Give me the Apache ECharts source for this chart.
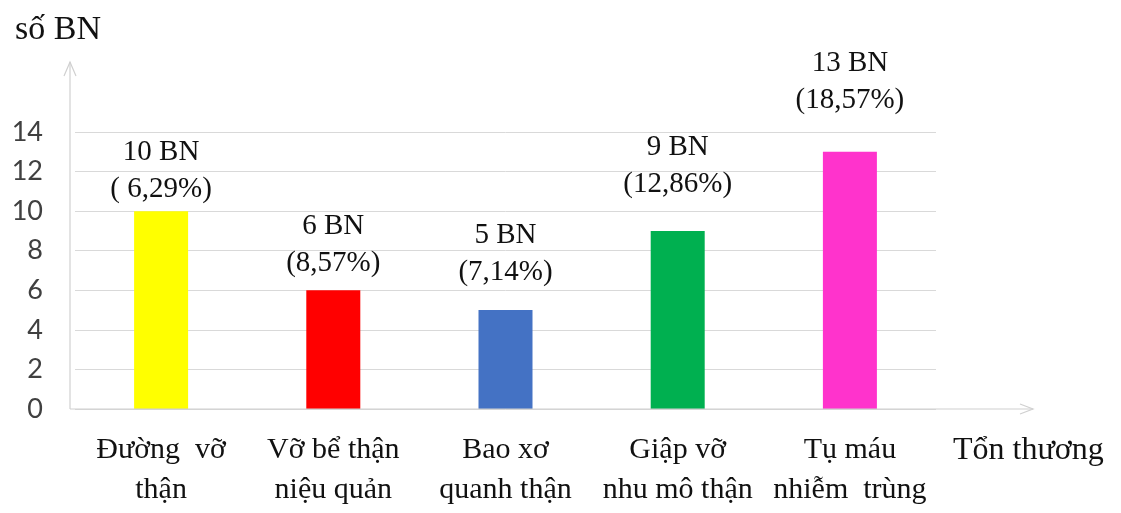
<!DOCTYPE html>
<html>
<head>
<meta charset="utf-8">
<script src="https://cdn.jsdelivr.net/npm/echarts@6/dist/echarts.min.js"></script>
<style>html,body{margin:0;padding:0;background:#fff}#c{width:1121px;height:513px}</style>
</head>
<body>
<div id="c"></div>
<script>
const categories = ['Đường  vỡ\nthận', 'Vỡ bể thận\nniệu quản', 'Bao xơ\nquanh thận', 'Giập vỡ\nnhu mô thận', 'Tụ máu\nnhiễm  trùng'];
const counts = [10, 6, 5, 9, 13];
const percents = ['( 6,29%)', '(8,57%)', '(7,14%)', '(12,86%)', '(18,57%)'];
const yTicks = [0, 2, 4, 6, 8, 10, 12, 14];
const yAxisTitle = 'số BN';
const xAxisTitle = 'Tổn thương';

const colors = ['#FFFF00', '#FF0000', '#4472C4', '#00B050', '#FF33CC'];
const labelGap = [3, 8, 19, 28, 33];

const G = {left: 75, right: 185, top: 132, bottom: 104};
const W = 1121, H = 513;
const axisX = 70, axisY = H - G.bottom;
const axisColor = '#d0d0d0';

const chart = echarts.init(document.getElementById('c'), null, {renderer: 'canvas'});
chart.setOption({
  animation: false,
  backgroundColor: '#ffffff',
  grid: G,
  xAxis: {
    type: 'category',
    data: categories,
    axisLine: {show: false},
    axisTick: {show: false},
    axisLabel: {
      interval: 0, margin: 21,
      fontFamily: 'Liberation Serif', fontSize: 30, lineHeight: 40, color: '#111111'
    }
  },
  yAxis: {
    type: 'value',
    min: yTicks[0], max: yTicks[yTicks.length - 1], interval: 2,
    axisLine: {show: false},
    axisTick: {show: false},
    splitLine: {lineStyle: {color: '#d9d9d9', width: 1}},
    axisLabel: {
      margin: 32, fontFamily: 'Lato', fontSize: 27, color: '#404040',
      showMinLabel: true, showMaxLabel: true
    }
  },
  series: [{
    type: 'bar',
    barWidth: 54,
    data: counts.map((v, i) => ({
      value: v,
      itemStyle: {color: colors[i]},
      label: {distance: labelGap[i]}
    })),
    label: {
      show: true,
      position: 'top',
      fontFamily: 'Liberation Serif',
      fontSize: 29,
      lineHeight: 37,
      color: '#111111',
      formatter: p => counts[p.dataIndex] + ' BN\n' + percents[p.dataIndex]
    }
  }],
  graphic: [
    {type: 'line', z: 10, shape: {x1: axisX, y1: axisY, x2: axisX, y2: 62}, style: {stroke: axisColor, lineWidth: 1.2}},
    {type: 'polyline', z: 10, shape: {points: [[axisX - 6, 76], [axisX, 62], [axisX + 6, 76]]}, style: {stroke: axisColor, lineWidth: 1.2, fill: null}},
    {type: 'line', z: 10, shape: {x1: axisX, y1: axisY, x2: 1033, y2: axisY}, style: {stroke: axisColor, lineWidth: 1.2}},
    {type: 'polyline', z: 10, shape: {points: [[1020, axisY - 5], [1033, axisY], [1020, axisY + 5]]}, style: {stroke: axisColor, lineWidth: 1.2, fill: null}},
    {type: 'text', left: 15, top: 13, style: {text: yAxisTitle, font: '34px "Liberation Serif"', fill: '#111111'}},
    {type: 'text', left: 953, top: 435, style: {text: xAxisTitle, font: '32px "Liberation Serif"', fill: '#111111'}}
  ]
});
</script>
</body>
</html>
